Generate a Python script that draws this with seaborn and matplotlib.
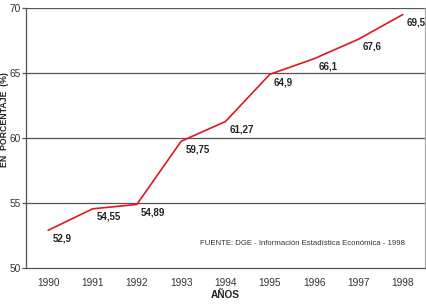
import numpy as np
import pandas as pd
import seaborn as sns
import matplotlib.pyplot as plt

years = ["1990", "1991", "1992", "1993", "1994", "1995", "1996", "1997", "1998"]
values = [52.9, 54.55, 54.89, 59.75, 61.27, 64.9, 66.1, 67.6, 69.5]
labels = ["52,9", "54,55", "54,89", "59,75", "61,27", "64,9", "66,1", "67,6", "69,5"]

df = pd.DataFrame({"pos": np.arange(len(years)), "pct": values})

sns.set_style("white")
plt.rcParams["font.family"] = ["Liberation Sans", "DejaVu Sans"]

fig = plt.figure(figsize=(4.26, 3.05), dpi=100)
ax = fig.add_axes([26 / 426, 37 / 305, 399 / 426, 260 / 305])

# horizontal grid
for v in [55, 60, 65, 70]:
    ax.axhline(v, color="#555555", lw=0.9, zorder=1)

sns.lineplot(data=df, x="pos", y="pct", color="#e3151d", lw=1.2, ax=ax, zorder=3)

for x, y, t in zip(df["pos"], df["pct"], labels):
    ax.annotate(t, (x, y), xytext=(3, -2), textcoords="offset points",
                ha="left", va="top", fontsize=7, fontweight="bold", color="#222222")

ax.set_xlim(-0.5, len(years) - 0.5)
ax.set_ylim(50, 70)
ax.set_yticks([50, 55, 60, 65, 70])
ax.set_xticks(np.arange(len(years) + 1) - 0.5)
ax.set_xticklabels([])
ax.set_xticks(np.arange(len(years)), minor=True)
ax.set_xticklabels(years, minor=True)
ax.tick_params(axis="x", which="major", length=3, width=0.9, color="#555555", direction="out")
ax.tick_params(axis="x", which="minor", length=0, labelsize=7.3, labelcolor="#333333", pad=7)
ax.tick_params(axis="y", length=3, width=0.9, color="#555555", labelsize=7.3,
               labelcolor="#333333", pad=1, left=True)

for s in ["left", "bottom"]:
    ax.spines[s].set_color("#555555")
    ax.spines[s].set_linewidth(0.9)
ax.spines["top"].set_visible(False)
ax.spines["right"].set_color("#aaaaaa")
ax.spines["right"].set_linewidth(0.9)

ax.set_xlabel("AÑOS", fontsize=7.3, fontweight="bold", color="#222222", labelpad=2)
ax.set_ylabel("EN  PORCENTAJE  (%)", fontsize=6.3, fontweight="bold", color="#222222", labelpad=3)
ax.yaxis.set_label_coords(-0.042, 0.57)

ax.text(8.05, 51.9, "FUENTE: DGE - Información Estadística Económica - 1998",
        fontsize=5.6, color="#333333", ha="right", va="center")

plt.savefig("out.png", dpi=100)
